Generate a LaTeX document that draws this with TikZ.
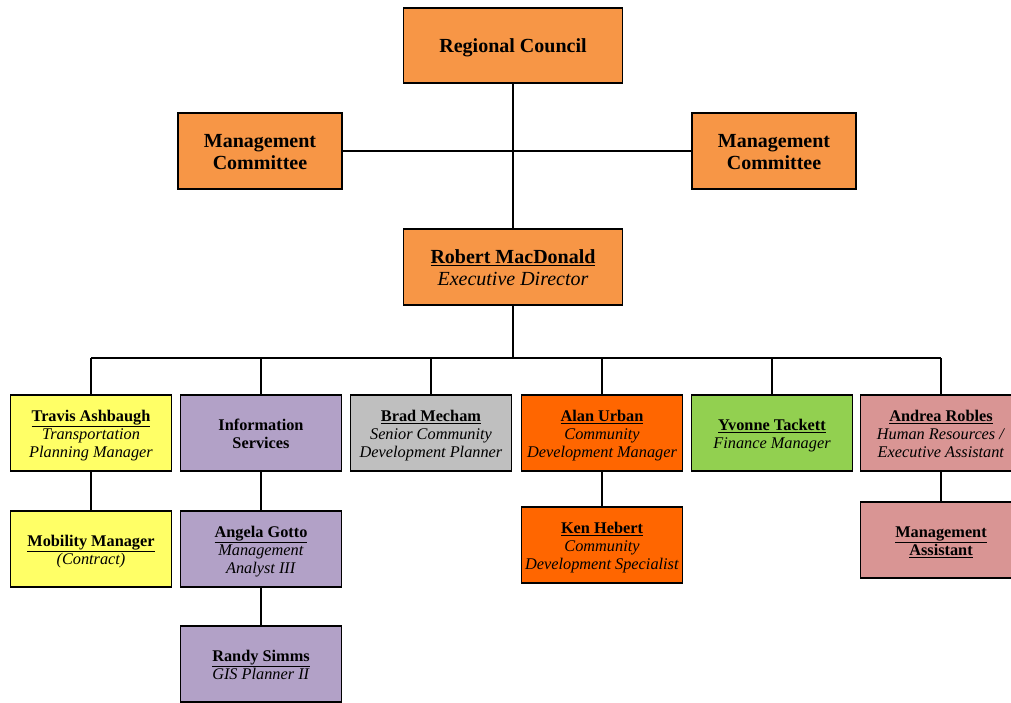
\documentclass[tikz,border=0pt]{standalone}
\usepackage{fontspec}
\setmainfont{Liberation Serif}
\definecolor{topor}{HTML}{F79646}
\definecolor{yel}{HTML}{FFFF66}
\definecolor{purp}{HTML}{B2A1C7}
\definecolor{gry}{HTML}{BFBFBF}
\definecolor{orn}{HTML}{FF6600}
\definecolor{grn}{HTML}{92D050}
\definecolor{pnk}{HTML}{D99594}
\tikzset{
  box/.style={draw=black, line width=1.7pt, inner sep=0pt, minimum width=161pt, minimum height=76pt},
  topbox/.style={box, fill=topor, font=\fontsize{20}{22}\selectfont},
  subbox/.style={box, font=\fontsize{16.3}{18.3}\selectfont},
  conn/.style={line width=1.7pt},
}
\newcommand{\nm}[1]{\textbf{\underline{#1}}}
\newcommand{\tbtop}[1]{\begin{tabular}{@{}c@{}}\rule{0pt}{21pt}#1\end{tabular}}
\newcommand{\tbsub}[1]{\begin{tabular}{@{}c@{}}\rule{0pt}{18.6pt}#1\end{tabular}}
\begin{document}
\begin{tikzpicture}[x=1pt,y=-1pt]
\useasboundingbox (0,0) rectangle (1011,702);
% top level
\node[topbox, minimum width=219pt, minimum height=75pt] (rc) at (513,45.5) {\tbtop{\textbf{Regional Council}}};
\node[topbox, minimum width=164pt] (mcl) at (260,151) {\tbtop{\textbf{Management}\\\textbf{Committee}}};
\node[topbox, minimum width=164pt] (mcr) at (774,151) {\tbtop{\textbf{Management}\\\textbf{Committee}}};
\node[topbox, minimum width=219pt] (ed) at (513,267) {\tbtop{\nm{Robert MacDonald}\\\textit{Executive Director}}};
\draw[conn] (rc.south) -- (ed.north);
\draw[conn] (mcl.east) -- (mcr.west);
% row 2
\node[subbox, fill=yel] (tr) at (91,433) {\tbsub{\nm{Travis Ashbaugh}\\\textit{Transportation}\\\textit{Planning Manager}}};
\node[subbox, fill=purp] (is) at (261,433) {\tbsub{\textbf{Information}\\\textbf{Services}}};
\node[subbox, fill=gry] (bm) at (431,433) {\tbsub{\nm{Brad Mecham}\\\textit{Senior Community}\\\textit{Development Planner}}};
\node[subbox, fill=orn] (au) at (602,433) {\tbsub{\nm{Alan Urban}\\\textit{Community}\\\textit{Development Manager}}};
\node[subbox, fill=grn] (yt) at (772,433) {\tbsub{\nm{Yvonne Tackett}\\\textit{Finance Manager}}};
\node[subbox, fill=pnk] (ar) at (941,433) {\tbsub{\nm{Andrea Robles}\\\textit{Human Resources /}\\\textit{Executive Assistant}}};
\coordinate (busL) at (91,358);
\coordinate (busR) at (941,358);
\draw[conn] (ed.south) -- (ed.south |- busL);
\draw[conn] (busL) -- (busR);
\foreach \n in {tr,is,bm,au,yt,ar} {\draw[conn] (\n.north) -- (\n.north |- busL);}
% row 3
\node[subbox, fill=yel] (mm) at (91,549) {\tbsub{\nm{Mobility Manager}\\\textit{(Contract)}}};
\node[subbox, fill=purp] (ag) at (261,549) {\tbsub{\nm{Angela Gotto}\\\textit{Management}\\\textit{Analyst III}}};
\node[subbox, fill=orn] (kh) at (602,545) {\tbsub{\nm{Ken Hebert}\\\textit{Community}\\\textit{Development Specialist}}};
\node[subbox, fill=pnk] (ma) at (941,540) {\tbsub{\nm{Management}\\\nm{Assistant}}};
\node[subbox, fill=purp] (rs) at (261,664) {\tbsub{\nm{Randy Simms}\\\textit{GIS Planner II}}};
\draw[conn] (tr.south) -- (mm.north);
\draw[conn] (is.south) -- (ag.north);
\draw[conn] (ag.south) -- (rs.north);
\draw[conn] (au.south) -- (kh.north);
\draw[conn] (ar.south) -- (ma.north);
\end{tikzpicture}
\end{document}
